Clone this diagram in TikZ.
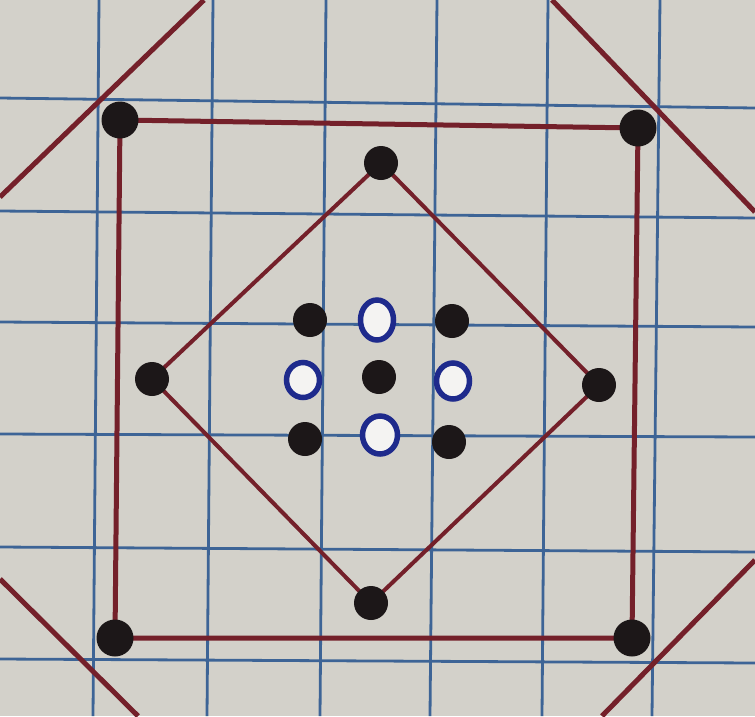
\documentclass[tikz,border=0pt]{standalone}
\usetikzlibrary{shapes.geometric}
\definecolor{paper}{HTML}{D3D1CA}
\definecolor{gridblue}{HTML}{3D6496}
\definecolor{redline}{HTML}{74202A}
\definecolor{ringblue}{HTML}{1E2A8C}
\definecolor{dotblack}{HTML}{1C1718}
\tikzset{
  gridline/.style={gridblue, line width=2.8pt},
  redpen/.style={redline, line width=5pt},
  thinpen/.style={redline, line width=4pt},
  bigdot/.style={circle, fill=dotblack, inner sep=0pt, minimum size=37pt},
  middot/.style={circle, fill=dotblack, inner sep=0pt, minimum size=34pt},
  ring/.style={ellipse, draw=ringblue, line width=5.5pt, fill=white!75!paper, inner sep=0pt}
}
\begin{document}
\begin{tikzpicture}[x=1pt,y=-1pt]
\useasboundingbox (0,0) rectangle (755,716);
\fill[paper] (0,0) rectangle (755,716);
% grid (slightly tilted, as in the photo)
\foreach \a/\b in {99/93,213/207,326/320,437/430,548/542,660/652}
  \draw[gridline] (\a,0) -- (\b,716);
\foreach \a/\b in {98/108,211/218,322/327,434/437,547/552,659/663}
  \draw[gridline] (0,\a) -- (755,\b);
% outer diagonal lines
\coordinate (d1a) at (0,197); \coordinate (d1b) at (204,0);
\coordinate (d2a) at (552,0); \coordinate (d2b) at (755,212);
\coordinate (d3a) at (0,579); \coordinate (d3b) at (138,716);
\coordinate (d4a) at (755,560); \coordinate (d4b) at (602,716);
\draw[redpen] (d1a) -- (d1b);
\draw[redpen] (d2a) -- (d2b);
\draw[redpen] (d3a) -- (d3b);
\draw[redpen] (d4a) -- (d4b);
% square corner points
\coordinate (s1) at (120,120);
\coordinate (s2) at (638,128);
\coordinate (s3) at (632,638);
\coordinate (s4) at (115,638);
\draw[redpen] (s1) -- (s2) -- (s3) -- (s4) -- cycle;
% diamond points
\coordinate (r1) at (381,163);
\coordinate (r2) at (599,385);
\coordinate (r3) at (371,603);
\coordinate (r4) at (152,379);
\draw[thinpen] (r1) -- (r2) -- (r3) -- (r4) -- cycle;
% dots
\foreach \p in {s1,s2,s3,s4} \node[bigdot] at (\p) {};
\foreach \p in {r1,r2,r3,r4} \node[middot] at (\p) {};
% central pattern
\node[middot] (c11) at (310,320) {};
\node[middot] (c13) at (452,321) {};
\node[middot] (c22) at (379,377) {};
\node[middot] (c31) at (305,439) {};
\node[middot] (c33) at (449,442) {};
\node[ring, minimum width=33pt, minimum height=40pt] (c12) at (377,320) {};
\node[ring, minimum width=33pt, minimum height=35pt] (c21) at (303,380) {};
\node[ring, minimum width=33pt, minimum height=36pt] (c23) at (453,381) {};
\node[ring, minimum width=35pt, minimum height=38pt] (c32) at (380,435) {};
\end{tikzpicture}
\end{document}
